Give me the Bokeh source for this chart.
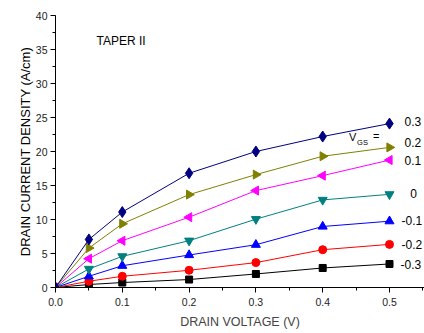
import numpy as np
from bokeh.plotting import figure
from bokeh.models import SingleIntervalTicker, NumeralTickFormatter, Label, Title
from bokeh.embed import file_html
from bokeh.resources import INLINE

# Drain voltage (V) and drain current density (A/cm) for each gate voltage
vds = [0.0, 0.05, 0.1, 0.2, 0.3, 0.4, 0.5]
id_p03 = [0.0, 7.07, 11.1, 16.8, 20.0, 22.2, 24.1]
id_p02 = [0.0, 5.8, 9.37, 13.66, 16.6, 19.3, 20.6]
id_p01 = [0.0, 4.24, 6.88, 10.34, 14.25, 16.45, 18.74]
id_000 = [0.0, 2.73, 4.58, 6.88, 10.05, 12.88, 13.7]
id_m01 = [0.0, 1.65, 3.2, 4.78, 6.29, 8.97, 9.75]
id_m02 = [0.0, 0.92, 1.65, 2.53, 3.66, 5.56, 6.34]
id_m03 = [0.0, 0.44, 0.73, 1.17, 1.99, 2.87, 3.46]
vgs_labels = ["0.3", "0.2", "0.1", "0", "-0.1", "-0.2", "-0.3"]

FONT = "Liberation Sans"

p = figure(width=424, height=333, output_backend="svg", toolbar_location=None,
           x_range=(0, 0.5524), y_range=(0, 40),
           min_border_left=55, min_border_right=0, min_border_top=15,
           min_border_bottom=46)
p.background_fill_color = "white"
p.border_fill_color = "white"
p.outline_line_color = None
p.xgrid.visible = False
p.ygrid.visible = False

# axes
p.xaxis.ticker = SingleIntervalTicker(interval=0.1, num_minor_ticks=2)
p.yaxis.ticker = SingleIntervalTicker(interval=5, num_minor_ticks=2)
p.xaxis.formatter = NumeralTickFormatter(format="0.0")
for ax in (p.xaxis[0], p.yaxis[0]):
    ax.axis_line_color = "black"
    ax.axis_line_width = 1
    ax.major_tick_line_color = "black"
    ax.minor_tick_line_color = "black"
    ax.major_tick_out = 5
    ax.major_tick_in = 0
    ax.minor_tick_out = 3
    ax.minor_tick_in = 0
    ax.major_label_text_font = FONT
    ax.major_label_text_font_size = "10.5px"
    ax.major_label_text_color = "#222222"
p.xaxis.major_label_standoff = 5
p.yaxis.major_label_standoff = 3
p.xaxis.axis_label = "DRAIN VOLTAGE (V)"
p.xaxis.axis_label_text_font = FONT
p.xaxis.axis_label_text_font_size = "12.5px"
p.xaxis.axis_label_text_font_style = "normal"
p.xaxis.axis_label_standoff = 6

# y-axis title, placed in the left panel and nudged downward
ytitle = Title(text="DRAIN CURRENT DENSITY (A/cm)", align="center", offset=-14,
               text_font=FONT, text_font_size="13px",
               text_font_style="normal", text_color="black", standoff=0)
p.add_layout(ytitle, "left")

series = [
    (id_m03, "black", "square", 0.0, 7),
    (id_m02, "#FF0000", "circle", 0.0, 8),
    (id_m01, "#0000FF", "triangle", 0.0, 9),
    (id_000, "#008080", "inverted_triangle", 0.0, 9),
    (id_p01, "#FF00FF", "triangle", np.pi / 2, 9),
    (id_p02, "#808000", "triangle", -np.pi / 2, 9),
    (id_p03, "#000080", "diamond", 0.0, 11),
]
for ys, col, mk, ang, sz in series:
    p.line(vds, ys, line_color=col, line_width=1)
    p.scatter(vds, ys, marker=mk, angle=ang, size=sz,
              fill_color=col, line_color=col)

# gate voltage labels at the end of each curve
lab_x = [0.5225, 0.5225, 0.5225, 0.531, 0.518, 0.518, 0.5165]
lab_y = [24.4, 21.3, 18.7, 13.8, 9.78, 6.36, 3.32]
for tx, lx, ly in zip(vgs_labels, lab_x, lab_y):
    p.add_layout(Label(x=lx, y=ly, text=tx, text_align="left",
                       text_baseline="middle", text_font=FONT,
                       text_font_size="12px", text_color="black"))

p.add_layout(Label(x=0.4394, y=22.1, text="V", text_align="left",
                   text_baseline="middle", text_font=FONT,
                   text_font_size="11px", text_color="black"))
p.add_layout(Label(x=0.4515, y=21.34, text="GS", text_align="left",
                   text_baseline="middle", text_font=FONT,
                   text_font_size="7.5px", text_color="black"))
p.add_layout(Label(x=0.4754, y=22.26, text="=", text_align="left",
                   text_baseline="middle", text_font=FONT,
                   text_font_size="11px", text_color="black"))

p.add_layout(Label(x=0.0614, y=36.2, text="TAPER II", text_align="left",
                   text_baseline="middle", text_font=FONT,
                   text_font_size="12px", text_color="black"))

open("out.html", "w").write(file_html(p, INLINE))
